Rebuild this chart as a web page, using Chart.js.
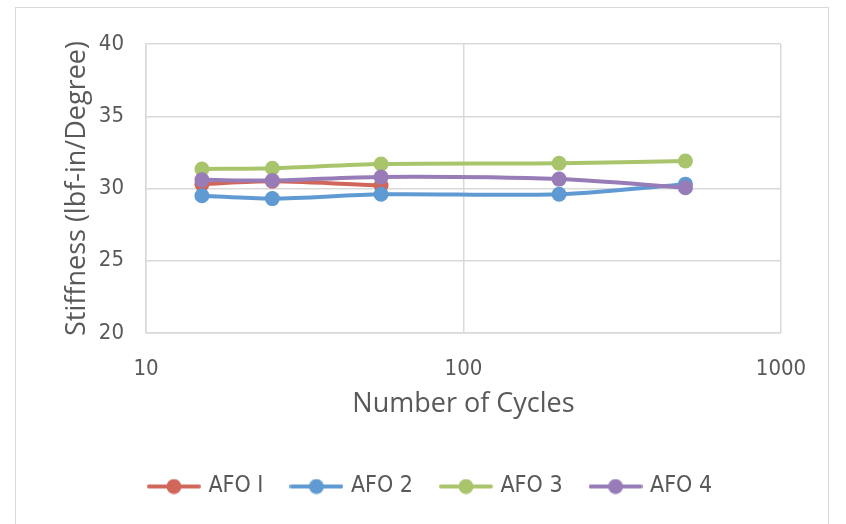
<!DOCTYPE html>
<html lang="en">
<head>
    <meta charset="UTF-8">
    <title>Stiffness vs Cycles</title>
    <script src="https://cdn.jsdelivr.net/npm/chart.js"></script>
    <style>
        body {
            margin: 0;
            background: #fff;
        }
        .wrap {
            position: relative;
            width: 846px;
            height: 524px;
            overflow: hidden;
        }
        .frame {
            position: absolute;
            left: 15px;
            top: 7px;
            width: 812px;
            height: 540px;
            border: 1px solid #d9d9d9;
        }
        canvas {
            position: absolute;
            left: 0;
            top: 0;
        }
    </style>
</head>
<body>
    <div class="wrap">
        <div class="frame"></div>
        <canvas id="stiffChart" width="846" height="524"></canvas>
    </div>

    <script>
        // values
        const cycles = [15, 25, 55, 200, 500];
        const afo1 = [30.3, 30.5, 30.2];
        const afo2 = [29.5, 29.3, 29.6, 29.6, 30.3];
        const afo3 = [31.35, 31.4, 31.7, 31.75, 31.9];
        const afo4 = [30.6, 30.55, 30.8, 30.65, 30.05];
        const xTicks = [10, 100, 1000];
        const yTicks = [20, 25, 30, 35, 40];

        const seriesNames = ['AFO I', 'AFO 2', 'AFO 3', 'AFO 4'];
        const seriesColors = ['#d1665b', '#5f9ad2', '#a9c56c', '#977cb8'];
        const seriesValues = [afo1, afo2, afo3, afo4];

        const tickFont = { family: '"DejaVu Sans Condensed", "DejaVu Sans", sans-serif', size: 22 };
        const legendFont = { family: '"DejaVu Sans Condensed", "DejaVu Sans", sans-serif', size: 23 };
        const titleFont = { family: '"Open Sans", sans-serif', size: 27 };
        const textColor = '#595959';
        const gridColor = '#d9d9d9';

        // legend marker: short line with a dot in the middle (excel style)
        function legendMarker(color) {
            const c = document.createElement('canvas');
            c.width = 54;
            c.height = 16;
            const g = c.getContext('2d');
            g.strokeStyle = color;
            g.lineWidth = 4;
            g.lineCap = 'round';
            g.beginPath();
            g.moveTo(2, 8);
            g.lineTo(52, 8);
            g.stroke();
            g.fillStyle = color;
            g.beginPath();
            g.arc(27, 8, 7.5, 0, Math.PI * 2);
            g.fill();
            return c;
        }
        const markers = seriesColors.map(legendMarker);

        // legend sits a bit right of the canvas centre in the original
        const legendShift = {
            id: 'legendShift',
            afterLayout(chart) {
                const lg = chart.legend;
                if (lg) {
                    lg.left += 41;
                    lg.right += 41;
                }
            }
        };

        const datasets = seriesNames.map((name, i) => ({
            label: name,
            data: seriesValues[i].map((v, k) => ({ x: cycles[k], y: v })),
            borderColor: seriesColors[i],
            backgroundColor: seriesColors[i],
            borderWidth: 4,
            pointRadius: 7.5,
            pointBorderWidth: 0,
            tension: 0.3,
            order: seriesNames.length - i
        }));

        const ctx = document.getElementById('stiffChart').getContext('2d');
        new Chart(ctx, {
            type: 'line',
            data: { datasets: datasets },
            plugins: [legendShift],
            options: {
                responsive: false,
                animation: false,
                layout: {
                    padding: { left: 0, top: 44, right: 65, bottom: 16 }
                },
                scales: {
                    x: {
                        type: 'logarithmic',
                        min: 10,
                        max: 1000,
                        afterBuildTicks: (scale) => {
                            scale.ticks = xTicks.map(v => ({ value: v }));
                        },
                        afterFit: (scale) => {
                            scale.height = 112;
                        },
                        ticks: {
                            font: tickFont,
                            color: textColor,
                            padding: 23,
                            maxRotation: 0,
                            callback: (v) => String(v)
                        },
                        grid: { color: gridColor, lineWidth: 1.5, drawTicks: false },
                        border: { color: gridColor, width: 1.5 },
                        title: {
                            display: true,
                            text: 'Number of Cycles',
                            font: titleFont,
                            color: textColor,
                            padding: { top: 0, bottom: 24 }
                        }
                    },
                    y: {
                        min: 20,
                        max: 40,
                        afterBuildTicks: (scale) => {
                            scale.ticks = yTicks.map(v => ({ value: v }));
                        },
                        afterFit: (scale) => {
                            scale.width = 146;
                        },
                        ticks: {
                            font: tickFont,
                            color: textColor,
                            padding: 22
                        },
                        grid: { color: gridColor, lineWidth: 1.5, drawTicks: false },
                        border: { color: gridColor, width: 1.5 },
                        title: {
                            display: true,
                            text: 'Stiffness (lbf-in/Degree)',
                            font: titleFont,
                            color: textColor,
                            padding: { top: 61 }
                        }
                    }
                },
                plugins: {
                    legend: {
                        position: 'bottom',
                        labels: {
                            font: legendFont,
                            color: textColor,
                            usePointStyle: true,
                            pointStyleWidth: 46,
                            boxHeight: 16,
                            padding: 30,
                            sort: (a, b) => a.datasetIndex - b.datasetIndex,
                            generateLabels: (chart) => {
                                const items = Chart.defaults.plugins.legend.labels.generateLabels(chart);
                                items.forEach(it => { it.pointStyle = markers[it.datasetIndex]; });
                                return items;
                            }
                        }
                    },
                    tooltip: { enabled: false }
                }
            }
        });
    </script>
</body>
</html>
